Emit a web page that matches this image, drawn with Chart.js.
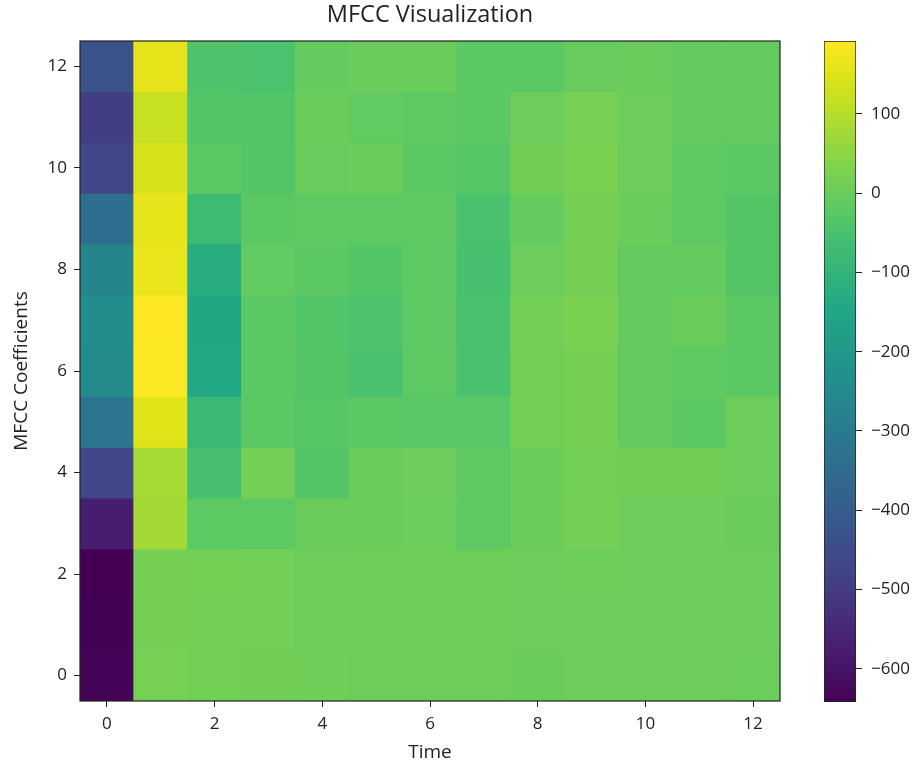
<!DOCTYPE html>
<html>
<head>
<meta charset="utf-8">
<title>MFCC Visualization</title>
<script src="https://cdn.jsdelivr.net/npm/chart.js@4.4.0/dist/chart.umd.min.js"></script>
<style>
  body { margin: 0; background: #fff; }
  #wrap { position: relative; width: 916px; height: 767px; }
  #main { position: absolute; left: 0; top: 0; }
  #cbar { position: absolute; left: 780px; top: 0; }
</style>
</head>
<body>
<div id="wrap">
  <canvas id="main" width="860" height="767"></canvas>
  <canvas id="cbar" width="136" height="767"></canvas>
</div>
<script>
// time frames along x, one array per MFCC coefficient (coef0 is the bottom row)
const frames = [0, 1, 2, 3, 4, 5, 6, 7, 8, 9, 10, 11, 12];
const coef0  = [-638, 18, 14, 10,   9,   5,   5,   5,   1,  4,  4,   4,   3];
const coef1  = [-640, 17, 15, 12,   6,   5,   5,   5,   4,  4,  4,   4,   4];
const coef2  = [-642, 17, 16, 13,   6,   5,   5,   5,   4,  5,  4,   4,   4];
const coef3  = [-575, 75, -18, -18, 0,   2,   3, -16,   0, 15,  4,   4,   0];
const coef4  = [-467, 80, -55, 13, -32,  0,   4, -16,   0, 13, 10,  10,   4];
const coef5  = [-320, 150, -82, -21, -29, -21, -24, -24, 13, 17, -9, -21,  4];
const coef6  = [-245, 190, -142, -21, -32, -48, -16, -48, 13, 17, -9, -16, -21];
const coef7  = [-242, 192, -146, -21, -35, -42, -16, -52, 13, 25, -9,   0, -21];
const coef8  = [-267, 167, -126, -12, -21, -32, -16, -55,  4, 17, -9,  -7, -32];
const coef9  = [-342, 163, -72, -21, -16, -16, -16, -48,  -7, 17,  0, -16, -32];
const coef10 = [-470, 142, -22, -35,  -3,   0, -21, -29, 10, 25,  4, -16, -21];
const coef11 = [-490, 121, -35, -35,   0, -12, -16, -21,  4, 18,  4,  -9,  -9];
const coef12 = [-433, 163, -42, -47,  -7,   0,   0, -21, -21, -3,  0,  -9,  -9];
const coefs = [coef0, coef1, coef2, coef3, coef4, coef5, coef6, coef7, coef8, coef9, coef10, coef11, coef12];

const vmin = Math.min(...coefs.flat());
const vmax = Math.max(...coefs.flat());

// viridis colour map stops
const vStops = [
  [0.0, '#440154'], [0.1, '#482475'], [0.2, '#414487'], [0.25, '#3b528b'],
  [0.3, '#355f8d'], [0.4, '#2a788e'], [0.5, '#21918c'], [0.6, '#22a884'],
  [0.7, '#44bf70'], [0.75, '#5ec962'], [0.8, '#7ad151'], [0.9, '#bddf26'],
  [0.95, '#dfe318'], [1.0, '#fde725']
];
function hexRgb(h) {
  return [parseInt(h.slice(1, 3), 16), parseInt(h.slice(3, 5), 16), parseInt(h.slice(5, 7), 16)];
}
function viridis(t) {
  t = Math.max(0, Math.min(1, t));
  for (let i = 1; i < vStops.length; i++) {
    if (t <= vStops[i][0]) {
      const a = vStops[i - 1], b = vStops[i];
      const f = (t - a[0]) / (b[0] - a[0]);
      const ca = hexRgb(a[1]), cb = hexRgb(b[1]);
      const c = ca.map((v, k) => Math.round(v + (cb[k] - v) * f));
      return 'rgb(' + c.join(',') + ')';
    }
  }
  return vStops[vStops.length - 1][1];
}

Chart.defaults.font.family = '"Open Sans", sans-serif';
Chart.defaults.color = '#222';

// one floating bar per cell
const cells = [];
const cellColors = [];
coefs.forEach(function (row, r) {
  row.forEach(function (v, c) {
    cells.push({ x: frames[c], y: [r - 0.5, r + 0.5] });
    cellColors.push(viridis((v - vmin) / (vmax - vmin)));
  });
});

const frame = {
  id: 'frame',
  afterDatasetsDraw(chart) {
    const a = chart.chartArea, ctx = chart.ctx;
    ctx.save();
    ctx.strokeStyle = '#222';
    ctx.lineWidth = 1.2;
    ctx.strokeRect(a.left, a.top, a.right - a.left, a.bottom - a.top);
    ctx.restore();
  }
};

const tickFont = { size: 17 };
const labelFont = { size: 19 };

new Chart(document.getElementById('main'), {
  type: 'bar',
  data: {
    datasets: [{
      data: cells,
      backgroundColor: cellColors,
      borderWidth: 0,
      inflateAmount: 0.5,
      barPercentage: 1,
      categoryPercentage: 1
    }]
  },
  options: {
    responsive: false,
    animation: false,
    plugins: {
      legend: { display: false },
      tooltip: { enabled: false },
      title: {
        display: true,
        text: 'MFCC Visualization',
        color: '#222',
        font: { size: 23.5, weight: 'normal' },
        padding: { top: 1, bottom: 11.8 }
      }
    },
    scales: {
      x: {
        type: 'linear', min: -0.5, max: 12.5, offset: false,
        ticks: { stepSize: 2, includeBounds: false, padding: 7, font: tickFont },
        grid: { offset: false, drawOnChartArea: false, tickLength: 6, tickColor: '#222' },
        border: { display: false },
        title: { display: true, text: 'Time', font: labelFont, padding: { top: 0, bottom: 3.5 } },
        afterFit: function (s) { s.height = 66; }
      },
      y: {
        type: 'linear', min: -0.5, max: 12.5,
        ticks: { stepSize: 2, includeBounds: false, padding: 7, font: tickFont },
        grid: { drawOnChartArea: false, tickLength: 6, tickColor: '#222' },
        border: { display: false },
        title: { display: true, text: 'MFCC Coefficients', font: labelFont, padding: { top: 10, bottom: 0 } },
        afterFit: function (s) { s.width = 80; }
      },
      yRight: {
        axis: 'y', position: 'right', display: true,
        ticks: { display: false },
        grid: { display: false },
        border: { display: false },
        afterFit: function (s) { s.width = 80; }
      }
    }
  },
  plugins: [frame]
});

// colour bar
new Chart(document.getElementById('cbar'), {
  type: 'bar',
  data: {
    labels: [''],
    datasets: [{
      data: [[vmin, vmax]],
      backgroundColor: function (ctx) {
        const a = ctx.chart.chartArea;
        if (!a) return '#21918c';
        const g = ctx.chart.ctx.createLinearGradient(0, a.bottom, 0, a.top);
        for (let i = 0; i <= 40; i++) g.addColorStop(i / 40, viridis(i / 40));
        return g;
      },
      borderColor: '#222',
      borderWidth: 1,
      borderSkipped: false,
      barPercentage: 1,
      categoryPercentage: 1
    }]
  },
  options: {
    responsive: false,
    animation: false,
    layout: { padding: { left: 44, top: 41, bottom: 65, right: 0 } },
    plugins: { legend: { display: false }, tooltip: { enabled: false } },
    scales: {
      x: { display: false },
      y: {
        position: 'right', min: vmin, max: vmax,
        ticks: {
          stepSize: 100, includeBounds: false, padding: 9, font: tickFont,
          callback: function (v) { return v < 0 ? '\u2212' + Math.abs(v) : String(v); }
        },
        grid: { drawOnChartArea: false, tickLength: 6, tickColor: '#222' },
        border: { display: false },
        afterFit: function (s) { s.width = 60; }
      }
    }
  }
});
</script>
</body>
</html>
